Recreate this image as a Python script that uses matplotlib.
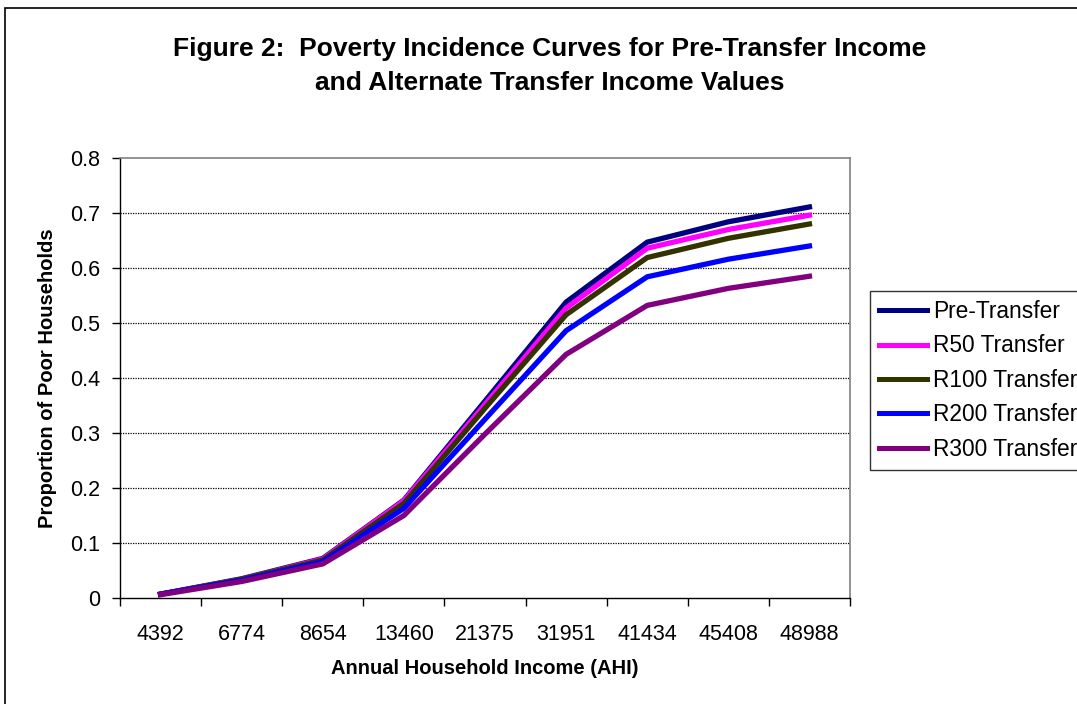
import numpy as np
import matplotlib
matplotlib.use('Agg')
import matplotlib.pyplot as plt
from matplotlib.patches import Rectangle

# kategorie (roční příjem domácnosti)
income = ['4392', '6774', '8654', '13460', '21375', '31951', '41434', '45408', '48988']

pre_transfer = [0.007, 0.035, 0.072, 0.178, 0.358, 0.538, 0.647, 0.684, 0.711]
r50_transfer = [0.007, 0.034, 0.071, 0.177, 0.352, 0.527, 0.636, 0.670, 0.696]
r100_transfer = [0.007, 0.034, 0.069, 0.172, 0.345, 0.515, 0.619, 0.654, 0.680]
r200_transfer = [0.007, 0.032, 0.066, 0.163, 0.325, 0.486, 0.584, 0.616, 0.640]
r300_transfer = [0.006, 0.030, 0.062, 0.150, 0.298, 0.443, 0.532, 0.563, 0.585]

series_names = ['Pre-Transfer', 'R50 Transfer', 'R100 Transfer', 'R200 Transfer', 'R300 Transfer']
colors = ['#000080', '#FF00FF', '#333300', '#0000FF', '#800080']

plt.rcParams['font.family'] = ['Liberation Sans', 'DejaVu Sans']

fig = plt.figure(figsize=(10.77, 7.04), dpi=100)
ax = fig.add_axes([120/1077, 1 - 598/704, 730/1077, 440/704])

x = np.arange(len(income))
all_series = [pre_transfer, r50_transfer, r100_transfer, r200_transfer, r300_transfer]
for vals, name, c in zip(all_series, series_names, colors):
    ax.plot(x, vals, color=c, lw=3.8, label=name, solid_joinstyle='miter')

ax.set_xlim(-0.5, len(income) - 0.5)
ax.set_ylim(0, 0.8)
ax.set_yticks(np.arange(0, 0.81, 0.1))
ax.set_yticklabels(['0'] + ['%.1f' % v for v in np.arange(0.1, 0.81, 0.1)])
ax.set_xticks(x)
ax.set_xticklabels(income)
ax.set_xticks(np.arange(-0.5, len(income), 1), minor=True)
ax.tick_params(axis='x', which='major', length=0, pad=19, labelsize=15.5)
ax.tick_params(axis='x', which='minor', length=6, width=1, direction='out')
ax.tick_params(axis='y', length=6, width=1, direction='out', pad=8, labelsize=15.5)

for v in np.arange(0.1, 0.75, 0.1):
    ax.axhline(v, color='black', lw=0.9, ls=(0, (1, 1)), zorder=0)

for s in ['top', 'right']:
    ax.spines[s].set_color('#808080')
    ax.spines[s].set_linewidth(1.2)
for s in ['left', 'bottom']:
    ax.spines[s].set_color('black')
    ax.spines[s].set_linewidth(1)

ax.set_xlabel('Annual Household Income (AHI)', fontsize=14.5, fontweight='bold', labelpad=10)
ax.set_ylabel('Proportion of Poor Households', fontsize=14.5, fontweight='bold', labelpad=10)

fig.text(550/1077, 1 - 49/704, 'Figure 2:  Poverty Incidence Curves for Pre-Transfer Income',
         ha='center', va='center', fontsize=19, fontweight='bold')
fig.text(550/1077, 1 - 83/704, 'and Alternate Transfer Income Values',
         ha='center', va='center', fontsize=19, fontweight='bold')

leg = fig.legend(loc='upper left', bbox_to_anchor=(870/1077, 1 - 291/704), fontsize=16.4,
                 frameon=True, fancybox=False, edgecolor='black', handlelength=2.1,
                 handletextpad=0.26, labelspacing=0.5, borderpad=0.4, borderaxespad=0)
leg.get_frame().set_linewidth(1)
for line in leg.get_lines():
    line.set_linewidth(3.6)

# rámeček kolem celého obrázku
fig.patches.append(Rectangle((5/1077, -0.05), 1.2, 1 - 8/704 + 0.05, transform=fig.transFigure,
                             fill=False, edgecolor='black', lw=1.2))

plt.savefig('out.png', dpi=100)
